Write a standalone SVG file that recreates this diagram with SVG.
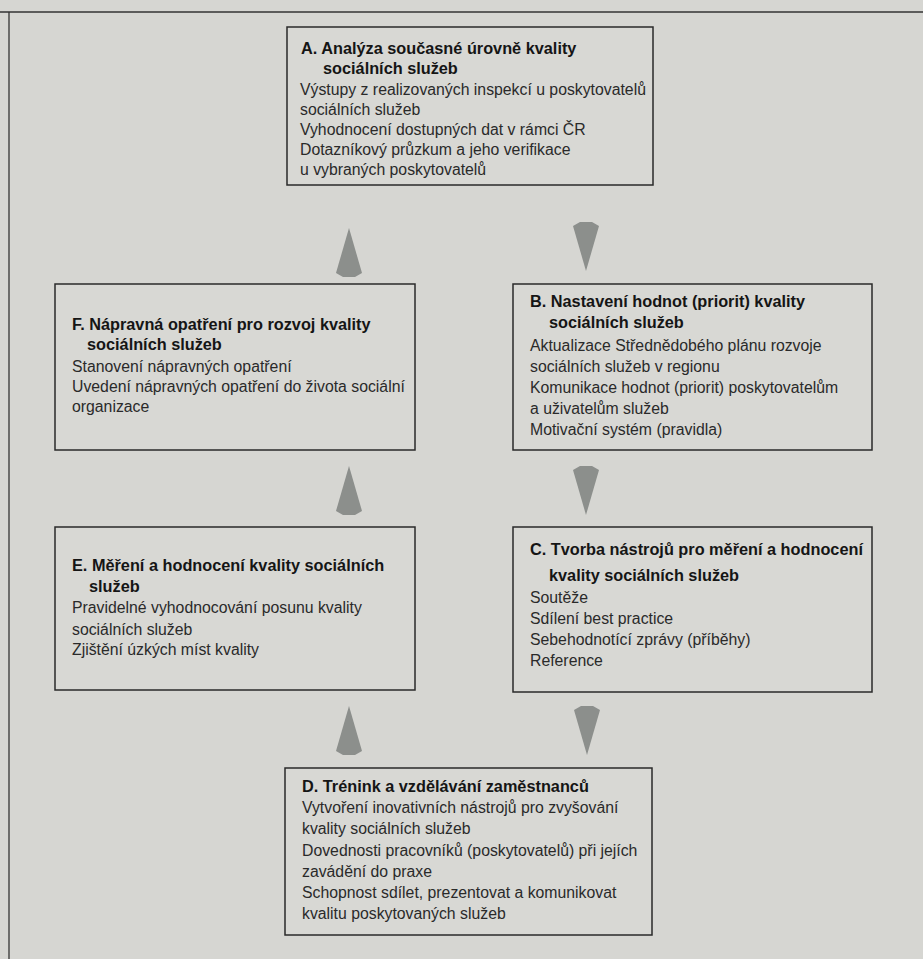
<svg xmlns="http://www.w3.org/2000/svg" width="923" height="959" viewBox="0 0 923 959">
<style>
.bg{fill:#d6d6d2}
.box{fill:#d8d8d4;stroke:#2a2a2a;stroke-width:1.5}
.frame{stroke:#333;stroke-width:1.3;fill:none}
.t{font-family:"Liberation Sans",Arial,sans-serif;font-size:16.3px;font-weight:bold;fill:#151515}
.b{font-family:"Liberation Sans",Arial,sans-serif;font-size:15.8px;fill:#2a2a2a}
.arr{fill:#8c8f8c}
</style>
<defs>
<polygon id="down" points="-6,0 6,0 13,4 0,49 -13,4"/>
<polygon id="up" points="-6,0 6,0 13,-4 0,-49 -13,-4"/>
</defs>
<rect class="bg" x="0" y="0" width="923" height="959"/>
<g id="frame">
<line class="frame" x1="0" y1="12" x2="923" y2="12"/>
<line class="frame" x1="9" y1="12" x2="9" y2="959"/>
</g>
<g id="connectors" class="arr">
<use href="#down" x="586" y="222"/>
<use href="#down" x="586" y="466"/>
<use href="#down" x="587" y="706"/>
<use href="#up" x="349" y="277"/>
<use href="#up" x="349" y="515"/>
<use href="#up" x="349" y="755"/>
</g>
<g id="nodeA">
<rect class="box" x="287" y="27" width="366" height="158"/>
<text class="t" x="301" y="54">A. Analýza současné úrovně kvality</text>
<text class="t" x="323" y="74">sociálních služeb</text>
<text class="b" x="300" y="95">Výstupy z realizovaných inspekcí u poskytovatelů</text>
<text class="b" x="300" y="115">sociálních služeb</text>
<text class="b" x="300" y="135">Vyhodnocení dostupných dat v rámci ČR</text>
<text class="b" x="300" y="155">Dotazníkový průzkum a jeho verifikace</text>
<text class="b" x="300" y="175">u vybraných poskytovatelů</text>
</g>
<g id="nodeB">
<rect class="box" x="513" y="284" width="359" height="166"/>
<text class="t" x="530" y="307">B. Nastavení hodnot (priorit) kvality</text>
<text class="t" x="549" y="328">sociálních služeb</text>
<text class="b" x="530" y="351">Aktualizace Střednědobého plánu rozvoje</text>
<text class="b" x="530" y="372">sociálních služeb v regionu</text>
<text class="b" x="530" y="393">Komunikace hodnot (priorit) poskytovatelům</text>
<text class="b" x="530" y="414">a uživatelům služeb</text>
<text class="b" x="530" y="435">Motivační systém (pravidla)</text>
</g>
<g id="nodeC">
<rect class="box" x="513" y="527" width="359" height="165"/>
<text class="t" x="530" y="555">C. Tvorba nástrojů pro měření a hodnocení</text>
<text class="t" x="549" y="581">kvality sociálních služeb</text>
<text class="b" x="530" y="603">Soutěže</text>
<text class="b" x="530" y="624">Sdílení best practice</text>
<text class="b" x="530" y="645">Sebehodnotící zprávy (příběhy)</text>
<text class="b" x="530" y="666">Reference</text>
</g>
<g id="nodeD">
<rect class="box" x="285" y="768" width="367" height="167"/>
<text class="t" x="302" y="792">D. Trénink a vzdělávání zaměstnanců</text>
<text class="b" x="302" y="813">Vytvoření inovativních nástrojů pro zvyšování</text>
<text class="b" x="302" y="834">kvality sociálních služeb</text>
<text class="b" x="302" y="856">Dovednosti pracovníků (poskytovatelů) při jejích</text>
<text class="b" x="302" y="877">zavádění do praxe</text>
<text class="b" x="302" y="898">Schopnost sdílet, prezentovat a komunikovat</text>
<text class="b" x="302" y="919">kvalitu poskytovaných služeb</text>
</g>
<g id="nodeE">
<rect class="box" x="55" y="527" width="360" height="163"/>
<text class="t" x="72" y="571">E. Měření a hodnocení kvality sociálních</text>
<text class="t" x="89" y="592">služeb</text>
<text class="b" x="72" y="613">Pravidelné vyhodnocování posunu kvality</text>
<text class="b" x="72" y="635">sociálních služeb</text>
<text class="b" x="72" y="655">Zjištění úzkých míst kvality</text>
</g>
<g id="nodeF">
<rect class="box" x="55" y="284" width="360" height="166"/>
<text class="t" x="72" y="330">F. Nápravná opatření pro rozvoj kvality</text>
<text class="t" x="87" y="350">sociálních služeb</text>
<text class="b" x="72" y="372">Stanovení nápravných opatření</text>
<text class="b" x="72" y="392">Uvedení nápravných opatření do života sociální</text>
<text class="b" x="72" y="412">organizace</text>
</g>
</svg>
